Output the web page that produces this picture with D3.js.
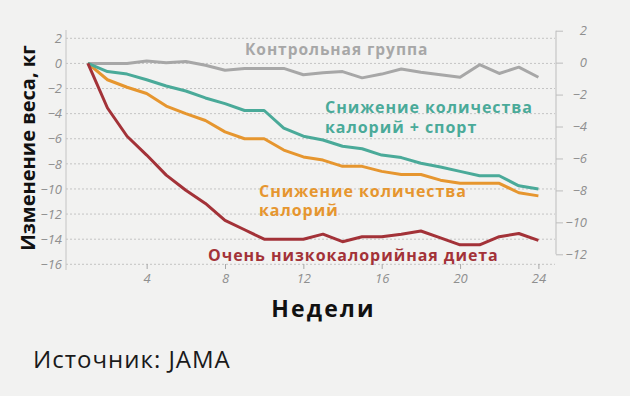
<!DOCTYPE html>
<html lang="ru">
<head>
<meta charset="UTF-8">
<title>Изменение веса</title>
<script src="https://d3js.org/d3.v7.min.js"></script>
<style>
  body { margin: 0; background: #f2f2f1; }
  svg { display: block; }
  .tick-label { font-family: "Open Sans", sans-serif; font-style: italic; font-size: 13px; fill: #8f8f8f; }
  .series-label { font-family: "Open Sans", sans-serif; font-weight: 700; font-size: 16px; letter-spacing: 0.95px; }
</style>
</head>
<body>
<div id="chart"></div>
<script>
// weeks 1..24
const weeks = d3.range(1, 25);
const control  = [0, 0, 0, 0.2, 0.05, 0.15, -0.15, -0.55, -0.4, -0.4, -0.4, -0.9, -0.75, -0.65, -1.15, -0.85, -0.45, -0.7, -0.9, -1.1, -0.1, -0.8, -0.3, -1.1];
const calSport = [0, -0.65, -0.85, -1.3, -1.8, -2.2, -2.75, -3.2, -3.75, -3.75, -5.15, -5.8, -6.1, -6.6, -6.8, -7.3, -7.5, -7.95, -8.25, -8.6, -8.95, -8.95, -9.75, -10.0];
const calories = [0, -1.3, -1.9, -2.4, -3.4, -4.0, -4.55, -5.45, -6.0, -6.0, -6.9, -7.45, -7.7, -8.2, -8.2, -8.6, -8.85, -8.85, -9.3, -9.55, -9.55, -9.55, -10.3, -10.55];
const veryLow  = [0, -3.55, -5.8, -7.3, -8.9, -10.1, -11.15, -12.5, -13.25, -14.0, -14.0, -14.0, -13.6, -14.2, -13.8, -13.8, -13.6, -13.35, -13.9, -14.45, -14.45, -13.8, -13.55, -14.1];

const xTicks = [4, 8, 12, 16, 20, 24];
const leftTicks = d3.range(2, -17, -2);
const rightTicks = d3.range(2, -13, -2);

const width = 630, height = 396;

const svg = d3.select("#chart").append("svg")
  .attr("width", width)
  .attr("height", height);

svg.append("rect").attr("width", width).attr("height", height).attr("fill", "#f2f2f1");

const x = d3.scaleLinear().domain([0, 24]).range([68.3, 538.4]);
const y = d3.scaleLinear().domain([2, -16]).range([38.3, 264.3]);
const yRight = d3.scaleLinear().domain([2, -12]).range([30.7, 254.3]);

// dotted grid
svg.append("g")
  .selectAll("line")
  .data(leftTicks)
  .join("line")
  .attr("x1", 66).attr("x2", 555)
  .attr("y1", d => y(d)).attr("y2", d => y(d))
  .attr("stroke", "#c4c4c4")
  .attr("stroke-dasharray", "2,2");

// left axis
const leftAxis = svg.append("g")
  .attr("transform", "translate(66,0)")
  .call(d3.axisLeft(y).tickValues(leftTicks).tickSize(0).tickPadding(4).tickFormat(d3.format("d")));
leftAxis.select(".domain").remove();
leftAxis.selectAll("text").attr("class", "tick-label");
svg.append("line").attr("x1", 66).attr("x2", 66).attr("y1", 30).attr("y2", 270)
  .attr("stroke", "#c4c4c4").attr("stroke-width", 1);

// right axis
const rightAxis = svg.append("g")
  .attr("transform", "translate(556,0)")
  .call(d3.axisRight(yRight).tickValues(rightTicks).tickSize(7).tickFormat(d3.format("d")));
rightAxis.select(".domain").attr("d", `M0,${yRight(2)}V${yRight(-12)}`).attr("stroke", "#bdbdbd");
rightAxis.selectAll(".tick line").attr("stroke", "#bdbdbd");
rightAxis.selectAll("text").attr("class", "tick-label").attr("text-anchor", "end").attr("x", 31);

// bottom axis
const bottomAxis = svg.append("g")
  .attr("transform", "translate(0,264)")
  .call(d3.axisBottom(x).tickValues(xTicks).tickSize(5).tickPadding(5));
bottomAxis.select(".domain").remove();
bottomAxis.selectAll(".tick line").attr("stroke", "#a8a8a8");
bottomAxis.selectAll("text").attr("class", "tick-label");

// lines
const series = [
  { values: control,  color: "#a7a7a7" },
  { values: calories, color: "#e6962f" },
  { values: calSport, color: "#4aaa99" },
  { values: veryLow,  color: "#a33238" }
];

const line = d3.line()
  .x((d, i) => x(weeks[i]))
  .y(d => y(d));

svg.append("g")
  .selectAll("path")
  .data(series)
  .join("path")
  .attr("d", d => line(d.values))
  .attr("fill", "none")
  .attr("stroke", d => d.color)
  .attr("stroke-width", 3)
  .attr("stroke-linejoin", "round");

// series labels, one text per line
const labels = [
  { text: "Контрольная группа", x: 245, y: 54.5, color: "#a7a7a7", size: 15.5 },
  { text: "Снижение количества", x: 325, y: 113, color: "#4aaa99", size: 16 },
  { text: "калорий + спорт", x: 325, y: 132.5, color: "#4aaa99", size: 16 },
  { text: "Снижение количества", x: 259, y: 196.5, color: "#e6962f", size: 16 },
  { text: "калорий", x: 259, y: 216, color: "#e6962f", size: 16 },
  { text: "Очень низкокалорийная диета", x: 208, y: 261, color: "#a33238", size: 16 }
];

svg.append("g")
  .selectAll("text")
  .data(labels)
  .join("text")
  .attr("class", "series-label")
  .attr("x", d => d.x).attr("y", d => d.y)
  .style("font-size", d => d.size + "px")
  .attr("fill", d => d.color)
  .text(d => d.text);

// axis titles
svg.append("text")
  .attr("transform", "translate(35,148) rotate(-90)")
  .attr("text-anchor", "middle")
  .style("font-family", "'Open Sans', sans-serif")
  .style("font-weight", 700)
  .style("font-size", "20px")
  .attr("fill", "#111")
  .text("Изменение веса, кг");

svg.append("text")
  .attr("x", 323.5).attr("y", 316.5)
  .attr("text-anchor", "middle")
  .style("font-family", "'Open Sans', sans-serif")
  .style("font-weight", 700)
  .style("font-size", "23px")
  .style("letter-spacing", "2.2px")
  .attr("fill", "#111")
  .text("Недели");

svg.append("text")
  .attr("x", 33).attr("y", 368)
  .style("font-family", "'Open Sans', sans-serif")
  .style("font-size", "24px")
  .style("letter-spacing", "1px")
  .attr("fill", "#1a1a1a")
  .text("Источник: JAMA");
</script>
</body>
</html>
